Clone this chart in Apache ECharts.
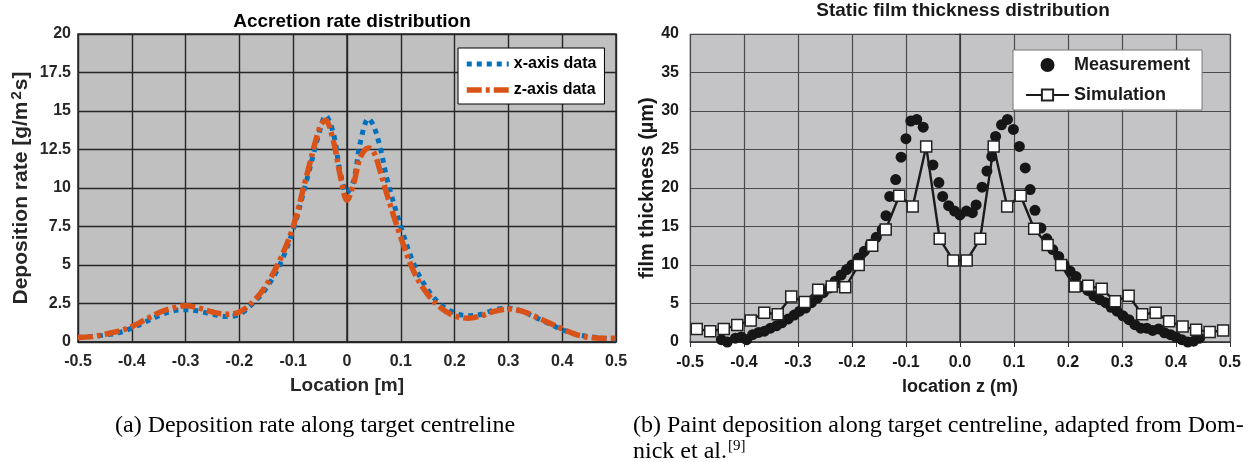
<!DOCTYPE html>
<html><head><meta charset="utf-8">
<script src="https://cdn.jsdelivr.net/npm/echarts@6/dist/echarts.min.js"></script>
<style>html,body{margin:0;padding:0;background:#fff}#c{width:1244px;height:462px}</style>
</head><body><div id="c"></div>
<script>
// ---- Left chart: Accretion rate distribution ----
const locX = [-0.5,-0.475,-0.45,-0.425,-0.4,-0.375,-0.35,-0.325,-0.3,-0.275,-0.25,-0.225,-0.2,-0.175,-0.15,-0.125,-0.1,-0.075,-0.05,-0.04,-0.025,-0.0125,0,0.0125,0.025,0.04,0.05,0.0625,0.075,0.1,0.125,0.15,0.175,0.2,0.225,0.25,0.275,0.3,0.325,0.35,0.375,0.4,0.425,0.45,0.475,0.5];
const xAxisData = [0.3,0.35,0.45,0.6,0.9,1.3,1.7,2.0,2.1,2.0,1.8,1.65,1.8,2.5,3.5,5.0,7.3,10.5,13.8,14.7,13.5,11.0,9.7,10.5,13.0,14.5,14.0,12.5,10.5,7.5,5.0,3.4,2.4,1.9,1.7,1.8,2.1,2.2,2.0,1.6,1.2,0.8,0.5,0.35,0.25,0.2];
const zAxisData = [0.3,0.35,0.5,0.7,1.0,1.45,1.9,2.2,2.35,2.2,1.95,1.8,1.95,2.6,3.7,5.3,7.5,10.8,14.0,14.4,13.0,10.8,9.2,10.3,12.0,12.6,12.3,11.0,9.5,6.8,4.5,3.1,2.2,1.7,1.55,1.7,2.0,2.15,2.0,1.65,1.25,0.85,0.5,0.3,0.25,0.25];
const leftYTicks = [0,2.5,5,7.5,10,12.5,15,17.5,20];

// ---- Right chart: Static film thickness distribution ----
const simZ = [-0.4875,-0.4625,-0.4375,-0.4125,-0.3875,-0.3625,-0.3375,-0.3125,-0.2875,-0.2625,-0.2375,-0.2125,-0.1875,-0.1625,-0.1375,-0.1125,-0.0875,-0.0625,-0.0375,-0.0125,0.0125,0.0375,0.0625,0.0875,0.1125,0.1375,0.1625,0.1875,0.2125,0.2375,0.2625,0.2875,0.3125,0.3375,0.3625,0.3875,0.4125,0.4375,0.4625,0.4875];
const simThk = [1.7,1.4,1.7,2.2,2.8,3.8,3.6,5.9,5.2,6.8,7.2,7.1,10.0,12.5,14.6,19.0,17.6,25.4,13.4,10.6,10.6,13.4,25.4,17.6,19.0,14.7,12.6,10.0,7.2,7.3,6.9,5.3,6.0,3.6,3.8,2.7,2.0,1.6,1.3,1.5];
const measZ = [-0.442,-0.431,-0.416,-0.405,-0.395,-0.384,-0.373,-0.362,-0.351,-0.34,-0.33,-0.318,-0.307,-0.297,-0.286,-0.275,-0.264,-0.253,-0.242,-0.231,-0.22,-0.21,-0.2,-0.188,-0.177,-0.166,-0.155,-0.144,-0.137,-0.13,-0.119,-0.109,-0.1,-0.091,-0.08,-0.068,-0.05,-0.039,-0.032,-0.021,-0.01,0,0.012,0.023,0.03,0.041,0.05,0.059,0.066,0.077,0.088,0.099,0.11,0.121,0.13,0.139,0.15,0.161,0.172,0.183,0.193,0.204,0.215,0.226,0.237,0.248,0.259,0.27,0.28,0.291,0.302,0.313,0.324,0.335,0.346,0.357,0.368,0.379,0.39,0.4,0.411,0.422,0.433,0.444];
const measThk = [0.3,0.0,0.5,0.65,0.3,0.95,1.25,1.4,1.8,2.1,2.5,3.0,3.5,4.0,4.4,5.1,5.7,6.4,7.0,7.9,8.7,9.4,10.0,10.9,11.8,12.7,13.6,14.6,16.4,18.9,21.1,24.0,26.4,28.7,28.9,27.9,23.0,20.7,18.9,17.7,17.0,16.5,17.0,16.8,17.8,20.1,22.2,24.1,26.7,28.2,28.9,27.6,25.4,22.6,19.8,17.1,14.8,13.4,12.0,11.1,10.0,9.2,8.5,7.2,6.7,6.0,5.5,5.1,4.5,4.0,3.4,2.9,2.25,1.8,1.8,1.5,1.7,1.2,0.95,0.65,0.3,0.0,0.1,0.5];
const rightYTicks = [0,5,10,15,20,25,30,35,40];

const pairs = (xs, ys) => xs.map((x, i) => [x, ys[i]]);
const fmtL = v => { const r = Math.round(v * 10) / 10; return r === 0 ? '0' : String(r); };
const fmtR = v => { const r = Math.round(v * 10) / 10; return (r === 0 ? 0 : r).toFixed(1); };
const F = 'Liberation Sans, Arial, sans-serif';
const SERIF = '"Liberation Serif", "DejaVu Serif", serif';

const blueStyle = {color: '#0072BD', width: 5, type: [5, 5], cap: 'butt'};
const orangeStyle = {color: '#D95319', width: 5.5, type: [15, 4, 4, 4], cap: 'butt'};

const chart = echarts.init(document.getElementById('c'), null, {renderer: 'canvas'});
chart.setOption({
  animation: false,
  backgroundColor: '#fff',
  title: [
    {text: 'Accretion rate distribution', left: 347, top: 7, textAlign: 'center',
     textStyle: {fontFamily: F, fontSize: 19, fontWeight: 'bold', color: '#000'}},
    {text: 'Static film thickness distribution', left: 958, top: -4, textAlign: 'center',
     textStyle: {fontFamily: F, fontSize: 19, fontWeight: 'bold', color: '#1a1a1a'}}
  ],
  legend: [
    {data: [
        {name: 'x-axis data', itemStyle: {opacity: 0}, lineStyle: blueStyle},
        {name: 'z-axis data', itemStyle: {opacity: 0}, lineStyle: orangeStyle}],
     orient: 'vertical', left: 458, top: 48,
     itemWidth: 42, itemHeight: 12, itemGap: 10, padding: [8, 8, 6, 6],
     backgroundColor: '#fff', borderColor: '#000', borderWidth: 1, borderRadius: 0,
     textStyle: {fontFamily: F, fontSize: 16, fontWeight: 'bold', color: '#000'}},
    {data: ['Measurement', 'Simulation'], orient: 'vertical', left: 1013, top: 50,
     itemWidth: 43, itemHeight: 14, itemGap: 12, padding: [6, 12, 6, 12],
     backgroundColor: '#fff', borderColor: '#777', borderWidth: 1, borderRadius: 0,
     textStyle: {fontFamily: F, fontSize: 18, fontWeight: 'bold', color: '#1a1a1a'}}
  ],
  grid: [
    {left: 78, top: 34, width: 538, height: 308, show: true, backgroundColor: '#c0c0c0',
     borderColor: '#262626', borderWidth: 1.5, containLabel: false},
    {left: 690, top: 34, width: 541, height: 308, show: true, backgroundColor: '#c4c4c6',
     borderColor: '#999', borderWidth: 1, containLabel: false}
  ],
  xAxis: [
    {type: 'value', gridIndex: 0, min: -0.5, max: 0.5, interval: 0.1,
     name: 'Location [m]', nameLocation: 'middle', nameGap: 34,
     nameTextStyle: {fontFamily: F, fontSize: 19, fontWeight: 'bold', color: '#262626'},
     axisLine: {show: true, lineStyle: {color: '#262626', width: 1.5}},
     axisTick: {show: false},
     axisLabel: {formatter: fmtL, fontFamily: F, fontSize: 16, fontWeight: 'bold', color: '#262626', margin: 12},
     splitLine: {show: true, lineStyle: {color: '#262626', width: 1.4}}},
    {type: 'value', gridIndex: 1, min: -0.5, max: 0.5, interval: 0.1,
     name: 'location z (m)', nameLocation: 'middle', nameGap: 36,
     nameTextStyle: {fontFamily: F, fontSize: 18, fontWeight: 'bold', color: '#1a1a1a'},
     axisLine: {show: true, lineStyle: {color: '#333', width: 1.5}},
     axisTick: {show: true, length: 5, lineStyle: {color: '#333'}},
     axisLabel: {formatter: fmtR, fontFamily: F, fontSize: 16, fontWeight: 'bold', color: '#1a1a1a', margin: 13},
     splitLine: {show: true, lineStyle: {color: '#4a4a4a', width: 1.2}}}
  ],
  yAxis: [
    {type: 'value', gridIndex: 0, min: 0, max: 20, interval: 2.5,
     name: '{a|Deposition rate [g/m}{s|2}{a|s]}', nameLocation: 'middle', nameGap: 44,
     nameTextStyle: {fontFamily: F, fontSize: 21, fontWeight: 'bold', color: '#262626',
       rich: {a: {fontFamily: F, fontSize: 21, fontWeight: 'bold', color: '#262626'},
              s: {fontFamily: F, fontSize: 15, fontWeight: 'bold', color: '#262626', verticalAlign: 'top', padding: [0, 1, 10, 2]}}},
     axisLine: {show: true, lineStyle: {color: '#262626', width: 1.5}},
     axisTick: {show: false},
     axisLabel: {formatter: fmtL, fontFamily: F, fontSize: 16, fontWeight: 'bold', color: '#262626', margin: 7},
     splitLine: {show: true, lineStyle: {color: '#262626', width: 1.4}}},
    {type: 'value', gridIndex: 1, min: 0, max: 40, interval: 5,
     name: 'film thickness (µm)', nameLocation: 'middle', nameGap: 33,
     nameTextStyle: {fontFamily: F, fontSize: 20, fontWeight: 'bold', color: '#1a1a1a'},
     axisLine: {show: true, lineStyle: {color: '#333', width: 1.5}},
     axisTick: {show: true, length: 5, lineStyle: {color: '#333'}},
     axisLabel: {fontFamily: F, fontSize: 16, fontWeight: 'bold', color: '#1a1a1a', margin: 11},
     splitLine: {show: true, lineStyle: {color: '#4a4a4a', width: 1.2}}}
  ],
  series: [
    {name: 'x-axis data', type: 'line', xAxisIndex: 0, yAxisIndex: 0, data: pairs(locX, xAxisData),
     smooth: 0.35, showSymbol: false, symbol: 'none',
     lineStyle: blueStyle, itemStyle: {color: '#0072BD'}, z: 2},
    {name: 'z-axis data', type: 'line', xAxisIndex: 0, yAxisIndex: 0, data: pairs(locX, zAxisData),
     smooth: 0.35, showSymbol: false, symbol: 'none',
     lineStyle: orangeStyle, itemStyle: {color: '#D95319'}, z: 3},
    {name: 'Measurement', type: 'scatter', xAxisIndex: 1, yAxisIndex: 1, data: pairs(measZ, measThk),
     symbol: 'circle', symbolSize: 11, itemStyle: {color: '#161616', opacity: 1}, z: 2},
    {name: 'Simulation', type: 'line', xAxisIndex: 1, yAxisIndex: 1, data: pairs(simZ, simThk),
     symbol: 'rect', symbolSize: 11, showSymbol: true,
     lineStyle: {color: '#1a1a1a', width: 2.4},
     itemStyle: {color: '#fff', borderColor: '#222', borderWidth: 1.5}, z: 3}
  ],
  graphic: [
    {type: 'text', left: 115, top: 414,
     style: {text: '(a) Deposition rate along target centreline', font: '24px ' + SERIF, fill: '#000'}},
    {type: 'text', left: 633, top: 414,
     style: {text: '(b) Paint deposition along target centreline, adapted from Dom-', font: '24px ' + SERIF, fill: '#000'}},
    {type: 'text', left: 633, top: 439,
     style: {text: '{a|nick et al.}{s|[9]}', fill: '#000',
       rich: {a: {fontFamily: 'Liberation Serif', fontSize: 24, fill: '#000'},
              s: {fontFamily: 'Liberation Serif', fontSize: 15, fill: '#000', verticalAlign: 'top', padding: [0, 0, 10, 1]}}}}
  ]
});
</script></body></html>
